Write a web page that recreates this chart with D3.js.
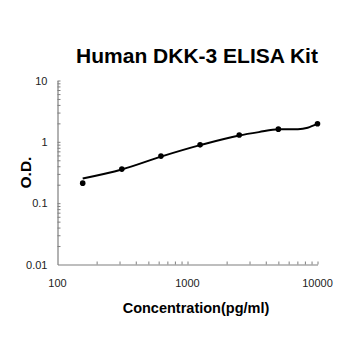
<!DOCTYPE html>
<html>
<head>
<meta charset="utf-8">
<script src="https://cdn.jsdelivr.net/npm/d3@7"></script>
<style>
  html, body { margin: 0; padding: 0; background: #fff; }
  svg { display: block; }
</style>
</head>
<body>
<svg id="chart" width="350" height="350"></svg>
<script>
// Standard curve measurements (concentration in pg/ml, optical density)
const concentrations = [156.25, 312.5, 625, 1250, 2500, 5000, 10000];
const odValues = [0.212, 0.359, 0.585, 0.893, 1.29, 1.61, 1.97];

// Fitted standard curve, sampled along the concentration range
const fitConc = [156.25, 312.5, 625, 1250, 2500, 3540, 5000, 7070, 8400, 10000];
const fitOD = [0.253, 0.355, 0.574, 0.883, 1.27, 1.44, 1.60, 1.61, 1.70, 1.98];

const xTickValues = [100, 1000, 10000];
const yTickValues = [0.01, 0.1, 1, 10];

const titleText = "Human DKK-3 ELISA Kit";
const xLabel = "Concentration(pg/ml)";
const yLabel = "O.D.";

const svg = d3.select("#chart");
const font = "'Liberation Sans', Arial, sans-serif";

const plotLeft = 57.5, plotRight = 317.5, plotTop = 80.5, plotBottom = 264.5;

const x = d3.scaleLog().domain([100, 10000]).range([plotLeft, plotRight]);
const y = d3.scaleLog().domain([0.01, 10]).range([plotBottom, plotTop]);

// minor ticks for each decade
function logTicks(lo, hi) {
  const out = [];
  for (let p = lo; p < hi; p *= 10) {
    for (let k = 1; k <= 10; k++) out.push(+(p * k).toPrecision(6));
  }
  return Array.from(new Set(out)).filter(v => v > lo && v <= hi);
}

// x axis (ticks inside, pointing up)
const xAxis = svg.append("g").attr("transform", `translate(0,${plotBottom})`)
  .call(d3.axisBottom(x).tickValues(logTicks(100, 10000)).tickSize(-3).tickSizeOuter(0).tickFormat(""));
xAxis.select(".domain").attr("stroke", "#7f7f7f").attr("stroke-width", 1.2);
xAxis.selectAll(".tick line").attr("stroke", "#7f7f7f");

svg.append("g").selectAll("text").data(xTickValues).join("text")
  .attr("x", d => x(d)).attr("y", plotBottom + 22)
  .attr("text-anchor", "middle")
  .attr("font-family", font).attr("font-size", 11).attr("fill", "#222")
  .text(d => d);

// y axis (ticks inside, pointing right)
const yAxis = svg.append("g").attr("transform", `translate(${plotLeft},0)`)
  .call(d3.axisLeft(y).tickValues(logTicks(0.01, 10)).tickSize(-3).tickSizeOuter(0).tickFormat(""));
yAxis.select(".domain").attr("stroke", "#7f7f7f").attr("stroke-width", 1.2);
yAxis.selectAll(".tick line").attr("stroke", "#7f7f7f");

svg.append("g").selectAll("text").data(yTickValues).join("text")
  .attr("x", plotLeft - 10).attr("y", d => y(d) + 4)
  .attr("text-anchor", "end")
  .attr("font-family", font).attr("font-size", 11).attr("fill", "#222")
  .text(d => d);

// fitted curve
const line = d3.line()
  .x((d, i) => x(fitConc[i]))
  .y((d, i) => y(fitOD[i]))
  .curve(d3.curveMonotoneX);

svg.append("path")
  .datum(fitConc)
  .attr("d", line)
  .attr("fill", "none")
  .attr("stroke", "#000")
  .attr("stroke-width", 2);

// measured points
svg.append("g").selectAll("circle").data(concentrations).join("circle")
  .attr("cx", d => x(d))
  .attr("cy", (d, i) => y(odValues[i]))
  .attr("r", 2.8)
  .attr("fill", "#000");

// title and axis labels
svg.append("text")
  .attr("x", 197).attr("y", 63)
  .attr("text-anchor", "middle")
  .attr("font-family", font).attr("font-weight", "bold").attr("font-size", 21)
  .attr("fill", "#000")
  .text(titleText);

svg.append("text")
  .attr("x", 196).attr("y", 313)
  .attr("text-anchor", "middle")
  .attr("font-family", font).attr("font-weight", "bold").attr("font-size", 14.5)
  .attr("fill", "#000")
  .text(xLabel);

svg.append("text")
  .attr("transform", `translate(31,${(plotTop + plotBottom) / 2}) rotate(-90)`)
  .attr("text-anchor", "middle")
  .attr("font-family", font).attr("font-weight", "bold").attr("font-size", 15.5)
  .attr("fill", "#000")
  .text(yLabel);
</script>
</body>
</html>
